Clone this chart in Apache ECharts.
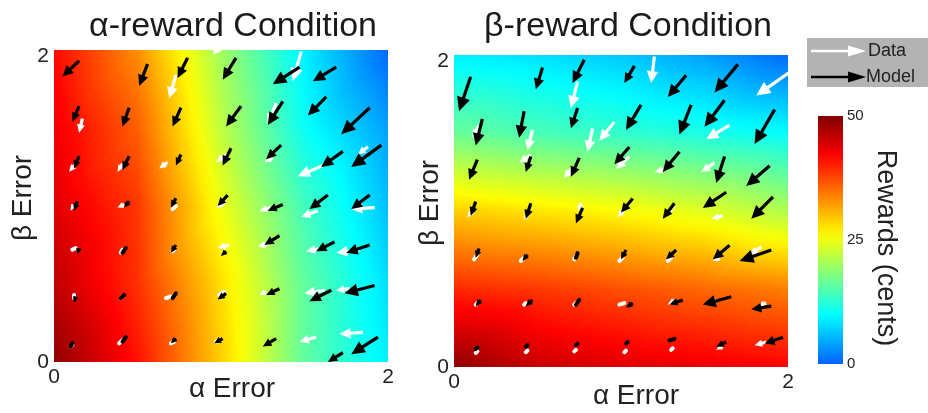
<!DOCTYPE html>
<html>
<head>
<meta charset="utf-8">
<script src="https://cdn.jsdelivr.net/npm/echarts@6.0.0/dist/echarts.min.js"></script>
<style>
  html, body { margin: 0; padding: 0; background: #fff; }
  #chart { width: 928px; height: 413px; }
</style>
</head>
<body>
<div id="chart"></div>
<script>
var chart = echarts.init(document.getElementById("chart"));
var FONT = "Liberation Sans, Arial, sans-serif";

// node positions of the reward surface (alpha error, beta error)
var nodeX = [0, 0.5, 1, 1.5, 2];
var nodeY = [0, 0.5, 1, 1.5, 2];

// rewards (cents) read at the nodes, one row per beta error value (bottom to top)
var alphaRewards = [
    [49, 41, 29, 16, 9],
    [46, 39, 28, 16, 8],
    [44, 38.5, 25, 14, 6],
    [43, 36, 22, 10.5, 4],
    [41.5, 33, 20, 9, 0.5]
];
var betaRewards = [
    [49, 45.5, 44, 43, 42],
    [39.5, 38.5, 37, 35.5, 34],
    [29, 27.5, 26, 24, 21],
    [16.5, 14.5, 13, 11.5, 10],
    [9, 8, 6.5, 4, 0.5]
];
var rewardRange = [0, 50];

// arrows: [tail alpha, tail beta, head alpha, head beta]
var alphaData = [
    [1.01, 2.04, 0.95, 1.97], [0.73, 1.84, 0.69, 1.69], [1.48, 1.99, 1.43, 1.80],
    [0.17, 1.56, 0.15, 1.47], [1.33, 1.66, 1.28, 1.52],
    [0.13, 1.27, 0.09, 1.22], [0.41, 1.27, 0.38, 1.22], [0.68, 1.28, 0.63, 1.24], [1.03, 1.33, 0.97, 1.28],
    [1.31, 1.31, 1.26, 1.28], [1.61, 1.26, 1.46, 1.19], [1.88, 1.38, 1.82, 1.33],
    [0.12, 1.01, 0.10, 0.97], [0.42, 1.01, 0.38, 0.99], [0.73, 1.00, 0.71, 0.98], [1.03, 1.03, 0.97, 0.99],
    [1.30, 0.99, 1.23, 0.97], [1.58, 0.97, 1.48, 0.93], [1.92, 0.99, 1.78, 0.98],
    [0.13, 0.73, 0.11, 0.72], [0.41, 0.72, 0.40, 0.70], [0.72, 0.72, 0.71, 0.71], [1.05, 0.75, 0.98, 0.73],
    [1.29, 0.76, 1.22, 0.74], [1.61, 0.73, 1.51, 0.71], [1.83, 0.72, 1.69, 0.70],
    [0.12, 0.43, 0.12, 0.41], [0.41, 0.42, 0.40, 0.41], [0.70, 0.42, 0.67, 0.41], [1.02, 0.45, 0.99, 0.43],
    [1.27, 0.45, 1.23, 0.43], [1.62, 0.46, 1.50, 0.44], [1.77, 0.47, 1.69, 0.46],
    [0.11, 0.11, 0.10, 0.10], [0.41, 0.14, 0.39, 0.12], [0.72, 0.13, 0.70, 0.12], [1.00, 0.14, 0.97, 0.13],
    [1.57, 0.16, 1.47, 0.13], [1.85, 0.19, 1.71, 0.18]
];
var alphaModel = [
    [0.15, 1.93, 0.05, 1.83], [0.56, 1.91, 0.51, 1.77], [0.80, 1.95, 0.74, 1.82], [1.09, 1.95, 1.01, 1.81],
    [1.47, 1.89, 1.31, 1.78], [1.69, 1.89, 1.55, 1.80],
    [0.15, 1.64, 0.11, 1.54], [0.45, 1.63, 0.41, 1.51], [0.76, 1.63, 0.71, 1.51], [1.12, 1.64, 1.03, 1.51],
    [1.37, 1.67, 1.28, 1.52], [1.63, 1.70, 1.52, 1.58], [1.89, 1.63, 1.72, 1.46],
    [0.15, 1.32, 0.12, 1.24], [0.45, 1.32, 0.41, 1.23], [0.76, 1.33, 0.73, 1.26], [1.06, 1.37, 1.01, 1.26],
    [1.36, 1.39, 1.27, 1.30], [1.73, 1.35, 1.60, 1.25], [1.96, 1.39, 1.78, 1.25],
    [0.14, 1.03, 0.12, 0.97], [0.45, 1.03, 0.42, 0.99], [0.73, 1.05, 0.70, 0.99], [1.04, 1.07, 0.98, 1.00],
    [1.37, 1.01, 1.28, 0.97], [1.64, 1.07, 1.53, 0.98], [1.89, 1.07, 1.78, 0.98],
    [0.15, 0.73, 0.14, 0.69], [0.43, 0.73, 0.41, 0.70], [0.73, 0.75, 0.70, 0.70], [1.03, 0.71, 1.00, 0.68],
    [1.35, 0.81, 1.26, 0.75], [1.68, 0.77, 1.57, 0.71], [1.89, 0.75, 1.75, 0.70],
    [0.13, 0.42, 0.12, 0.38], [0.42, 0.43, 0.40, 0.41], [0.73, 0.44, 0.71, 0.41], [1.03, 0.44, 0.98, 0.40],
    [1.35, 0.47, 1.27, 0.43], [1.66, 0.46, 1.53, 0.39], [1.92, 0.49, 1.74, 0.44],
    [0.11, 0.12, 0.10, 0.10], [0.43, 0.16, 0.41, 0.13], [0.73, 0.15, 0.70, 0.12], [1.01, 0.15, 0.96, 0.12],
    [1.33, 0.15, 1.25, 0.10], [1.73, 0.06, 1.64, 0.00], [1.94, 0.16, 1.78, 0.05]
];
var betaData = [
    [1.20, 1.99, 1.18, 1.82], [2.01, 1.89, 1.81, 1.74], [0.74, 1.83, 0.70, 1.66],
    [0.15, 1.55, 0.11, 1.47], [0.47, 1.52, 0.44, 1.39], [0.83, 1.53, 0.80, 1.38], [0.96, 1.57, 0.87, 1.45],
    [1.65, 1.55, 1.51, 1.46],
    [0.46, 1.36, 0.39, 1.31], [0.71, 1.28, 0.66, 1.21], [1.05, 1.35, 0.97, 1.27], [1.27, 1.27, 1.20, 1.25],
    [1.56, 1.31, 1.48, 1.25],
    [0.12, 1.01, 0.08, 0.96], [0.44, 0.98, 0.43, 0.96], [0.76, 1.04, 0.75, 1.02], [1.02, 1.01, 0.98, 0.96],
    [1.31, 1.03, 1.29, 1.00], [1.61, 0.97, 1.54, 0.95],
    [0.14, 0.72, 0.12, 0.69], [0.42, 0.70, 0.40, 0.68], [0.73, 0.71, 0.72, 0.69], [1.01, 0.70, 0.99, 0.68],
    [1.30, 0.70, 1.28, 0.68], [1.59, 0.70, 1.55, 0.68], [1.84, 0.77, 1.77, 0.72],
    [0.14, 0.41, 0.13, 0.40], [0.43, 0.41, 0.42, 0.40], [0.73, 0.41, 0.72, 0.40], [1.02, 0.41, 0.99, 0.40],
    [1.33, 0.43, 1.28, 0.40], [1.57, 0.43, 1.51, 0.40], [1.87, 0.41, 1.82, 0.39],
    [0.14, 0.10, 0.13, 0.09], [0.44, 0.105, 0.43, 0.095], [0.73, 0.11, 0.72, 0.10], [1.03, 0.105, 1.02, 0.095],
    [1.31, 0.12, 1.30, 0.11], [1.61, 0.135, 1.57, 0.11], [1.87, 0.16, 1.80, 0.14]
];
var betaModel = [
    [0.10, 1.86, 0.03, 1.64], [0.53, 1.92, 0.49, 1.78], [0.78, 1.97, 0.71, 1.82], [1.08, 1.93, 1.02, 1.82],
    [1.39, 1.87, 1.28, 1.73], [1.70, 1.94, 1.56, 1.76],
    [0.17, 1.59, 0.13, 1.42], [0.42, 1.64, 0.39, 1.47], [0.74, 1.66, 0.70, 1.53], [1.12, 1.68, 1.03, 1.52],
    [1.42, 1.68, 1.35, 1.49], [1.62, 1.71, 1.50, 1.54], [1.92, 1.65, 1.80, 1.43],
    [0.14, 1.33, 0.09, 1.20], [0.46, 1.35, 0.43, 1.25], [0.75, 1.34, 0.70, 1.22], [1.05, 1.41, 0.96, 1.30],
    [1.35, 1.38, 1.25, 1.25], [1.62, 1.35, 1.57, 1.18], [1.89, 1.29, 1.75, 1.16],
    [0.13, 1.06, 0.10, 0.97], [0.46, 1.05, 0.43, 0.95], [0.77, 1.02, 0.73, 0.92], [1.07, 1.08, 1.00, 0.99],
    [1.32, 1.05, 1.25, 0.95], [1.63, 1.12, 1.49, 1.02], [1.91, 1.09, 1.78, 0.95],
    [0.15, 0.76, 0.13, 0.70], [0.44, 0.72, 0.41, 0.68], [0.74, 0.73, 0.73, 0.70], [1.03, 0.75, 1.00, 0.69],
    [1.33, 0.75, 1.27, 0.69], [1.65, 0.78, 1.55, 0.69], [1.90, 0.75, 1.71, 0.68],
    [0.16, 0.43, 0.13, 0.39], [0.47, 0.43, 0.43, 0.39], [0.75, 0.43, 0.73, 0.40], [1.07, 0.41, 1.03, 0.38],
    [1.37, 0.43, 1.29, 0.40], [1.66, 0.45, 1.49, 0.40], [1.90, 0.39, 1.78, 0.37],
    [0.14, 0.125, 0.13, 0.115], [0.44, 0.14, 0.43, 0.13], [0.74, 0.15, 0.73, 0.14], [1.04, 0.16, 1.03, 0.15],
    [1.32, 0.18, 1.29, 0.17], [1.63, 0.16, 1.57, 0.13], [1.97, 0.19, 1.86, 0.15]
];

// jet colormap, cut so that 0 cents is a light blue and 50 cents dark red
function rewardColor(v) {
    var t = Math.max(0, Math.min(1, (v - rewardRange[0]) / (rewardRange[1] - rewardRange[0])));
    var f = 0.22 + 0.78 * t;
    function c(x) { return Math.round(255 * Math.max(0, Math.min(1, x))); }
    var r = c(Math.min(4 * f - 1.5, -4 * f + 4.5));
    var g = c(Math.min(4 * f - 0.5, -4 * f + 3.5));
    var b = c(Math.min(4 * f + 0.5, -4 * f + 2.5));
    return "rgb(" + r + "," + g + "," + b + ")";
}

function buildCells(grid) {
    var cells = [];
    for (var j = 0; j < nodeY.length - 1; j++) {
        for (var i = 0; i < nodeX.length - 1; i++) {
            cells.push([nodeX[i], nodeY[j], nodeX[i + 1], nodeY[j + 1],
                grid[j][i], grid[j][i + 1], grid[j + 1][i], grid[j + 1][i + 1]]);
        }
    }
    return cells;
}

// triangle whose colour varies linearly between its corner values
function shadedTriangle(p, v) {
    var dx2 = p[1][0] - p[0][0], dy2 = p[1][1] - p[0][1], dv2 = v[1] - v[0];
    var dx3 = p[2][0] - p[0][0], dy3 = p[2][1] - p[0][1], dv3 = v[2] - v[0];
    var det = dx2 * dy3 - dx3 * dy2;
    var gx = (dv2 * dy3 - dv3 * dy2) / det;
    var gy = (dx2 * dv3 - dx3 * dv2) / det;
    var g = Math.sqrt(gx * gx + gy * gy);
    var fill;
    if (g < 1e-9) {
        fill = rewardColor(v[0]);
    } else {
        var tmin = Infinity, tmax = -Infinity;
        p.forEach(function (q) {
            var t = gx * (q[0] - p[0][0]) + gy * (q[1] - p[0][1]);
            tmin = Math.min(tmin, t);
            tmax = Math.max(tmax, t);
        });
        var ux = gx / g, uy = gy / g;
        var stops = [];
        for (var k = 0; k <= 10; k++) {
            stops.push({ offset: k / 10, color: rewardColor(v[0] + tmin + (tmax - tmin) * k / 10) });
        }
        fill = new echarts.graphic.LinearGradient(
            p[0][0] + ux * tmin / g, p[0][1] + uy * tmin / g,
            p[0][0] + ux * tmax / g, p[0][1] + uy * tmax / g, stops, true);
    }
    return {
        type: "polygon",
        shape: { points: p },
        style: { fill: fill, stroke: fill, lineWidth: 1 }
    };
}

function renderCell(params, api) {
    var p00 = api.coord([api.value(0), api.value(1)]);
    var p10 = api.coord([api.value(2), api.value(1)]);
    var p01 = api.coord([api.value(0), api.value(3)]);
    var p11 = api.coord([api.value(2), api.value(3)]);
    var v00 = api.value(4), v10 = api.value(5), v01 = api.value(6), v11 = api.value(7);
    return {
        type: "group",
        children: [
            shadedTriangle([p00, p10, p11], [v00, v10, v11]),
            shadedTriangle([p00, p11, p01], [v00, v11, v01])
        ]
    };
}

function arrowRenderer(color) {
    return function (params, api) {
        var p0 = api.coord([api.value(0), api.value(1)]);
        var p1 = api.coord([api.value(2), api.value(3)]);
        var dx = p1[0] - p0[0], dy = p1[1] - p0[1];
        var len = Math.sqrt(dx * dx + dy * dy);
        if (len < 6) {
            return {
                type: "line",
                shape: { x1: p0[0], y1: p0[1], x2: p1[0], y2: p1[1] },
                style: { stroke: color, lineWidth: 4, lineCap: "round" }
            };
        }
        var ux = dx / len, uy = dy / len;
        var hl = Math.min(14, 4 + 0.3 * len);
        var hw = hl * 0.48;
        var bx = p1[0] - ux * hl, by = p1[1] - uy * hl;
        return {
            type: "group",
            children: [{
                type: "line",
                shape: { x1: p0[0], y1: p0[1], x2: bx + ux, y2: by + uy },
                style: { stroke: color, lineWidth: 3.2 }
            }, {
                type: "polygon",
                shape: { points: [[p1[0], p1[1]], [bx - uy * hw, by + ux * hw], [bx + uy * hw, by - ux * hw]] },
                style: { fill: color }
            }]
        };
    };
}

function renderColorbar(params, api) {
    var a = api.coord([0, api.value(0)]);
    var b = api.coord([1, api.value(1)]);
    var stops = [];
    for (var k = 0; k <= 20; k++) {
        stops.push({ offset: k / 20, color: rewardColor(api.value(1) - (api.value(1) - api.value(0)) * k / 20) });
    }
    return {
        type: "rect",
        shape: { x: a[0], y: b[1], width: b[0] - a[0], height: a[1] - b[1] },
        style: { fill: new echarts.graphic.LinearGradient(0, 0, 0, 1, stops) }
    };
}

var tickStyle = {
    fontFamily: FONT, fontSize: 21, color: "#222"
};

function valueXAxis(idx, nameShift, gap) {
    return {
        type: "value", gridIndex: idx, min: 0, max: 2, interval: 2,
        axisLine: { show: false }, axisTick: { show: false }, splitLine: { show: false },
        axisLabel: Object.assign({ margin: 5 }, tickStyle),
        name: "α Error", nameLocation: "middle", nameGap: gap, nameMoveOverlap: false,
        nameTextStyle: { fontFamily: FONT, fontSize: 28, color: "#222", padding: [0, 0, 0, nameShift] }
    };
}
function valueYAxis(idx, gap) {
    return {
        type: "value", gridIndex: idx, min: 0, max: 2, interval: 2,
        axisLine: { show: false }, axisTick: { show: false }, splitLine: { show: false },
        axisLabel: {
            margin: 5,
            formatter: function (v) { return v === 2 ? "{top|2}" : "{n|" + v + "}"; },
            rich: {
                top: Object.assign({ padding: [12, 0, 0, 0] }, tickStyle),
                n: Object.assign({}, tickStyle)
            }
        },
        name: "β Error", nameLocation: "middle", nameRotate: 90, nameGap: gap, nameMoveOverlap: false,
        nameTextStyle: { fontFamily: FONT, fontSize: 28, color: "#222", padding: [0, 0, 0, 16] }
    };
}

var option = {
    backgroundColor: "#fff",
    animation: false,
    title: [{
        text: "α-reward Condition", left: 228, top: 5, textAlign: "center",
        textStyle: { fontFamily: FONT, fontSize: 34, fontWeight: "normal", color: "#1a1a1a" }
    }, {
        text: "β-reward Condition", left: 623, top: 5, textAlign: "center",
        textStyle: { fontFamily: FONT, fontSize: 34, fontWeight: "normal", color: "#1a1a1a" }
    }],
    grid: [
        { left: 54, top: 50, width: 334, height: 312, outerBoundsMode: "none" },
        { left: 454, top: 55, width: 334, height: 312, outerBoundsMode: "none" },
        { left: 818, top: 116, width: 25, height: 248, outerBoundsMode: "none" }
    ],
    xAxis: [
        valueXAxis(0, 22, 13),
        valueXAxis(1, 30, 15),
        { type: "value", gridIndex: 2, min: 0, max: 1, show: false }
    ],
    yAxis: [
        valueYAxis(0, 17),
        valueYAxis(1, 10),
        {
            type: "value", gridIndex: 2, min: rewardRange[0], max: rewardRange[1], interval: 25,
            position: "right",
            axisLine: { show: false }, axisTick: { show: false }, splitLine: { show: false },
            axisLabel: { margin: 4, fontFamily: FONT, fontSize: 15, color: "#222" },
            name: "Rewards (cents)", nameLocation: "middle", nameRotate: -90, nameGap: 29, nameMoveOverlap: false,
            nameTextStyle: { fontFamily: FONT, fontSize: 27, color: "#222", padding: [0, 0, 0, 16] }
        }
    ],
    series: [
        { type: "custom", name: "alpha surface", xAxisIndex: 0, yAxisIndex: 0, silent: true, z: 1, clip: true,
          renderItem: renderCell, data: buildCells(alphaRewards) },
        { type: "custom", name: "beta surface", xAxisIndex: 1, yAxisIndex: 1, silent: true, z: 1, clip: true,
          renderItem: renderCell, data: buildCells(betaRewards) },
        { type: "custom", name: "Data", xAxisIndex: 0, yAxisIndex: 0, clip: true, z: 3,
          renderItem: arrowRenderer("#ffffff"), data: alphaData },
        { type: "custom", name: "Model", xAxisIndex: 0, yAxisIndex: 0, clip: true, z: 4,
          renderItem: arrowRenderer("#000000"), data: alphaModel },
        { type: "custom", name: "Data", xAxisIndex: 1, yAxisIndex: 1, clip: true, z: 3,
          renderItem: arrowRenderer("#ffffff"), data: betaData },
        { type: "custom", name: "Model", xAxisIndex: 1, yAxisIndex: 1, clip: true, z: 4,
          renderItem: arrowRenderer("#000000"), data: betaModel },
        { type: "custom", name: "colorbar", xAxisIndex: 2, yAxisIndex: 2, silent: true,
          renderItem: renderColorbar, data: [rewardRange] }
    ],
    graphic: [{
        type: "group", left: 807, top: 38,
        children: [
            { type: "rect", shape: { x: 0, y: 0, width: 125, height: 49 }, style: { fill: "#b3b3b3" } },
            { type: "line", shape: { x1: 4, y1: 13, x2: 44, y2: 13 }, style: { stroke: "#fff", lineWidth: 2.5 } },
            { type: "polygon", shape: { points: [[41, 7.5], [59, 13], [41, 18.5]] }, style: { fill: "#fff" } },
            { type: "text", x: 61, y: 13, style: { text: "Data", font: "18px " + FONT, fill: "#222", verticalAlign: "middle" } },
            { type: "line", shape: { x1: 4, y1: 39, x2: 44, y2: 39 }, style: { stroke: "#000", lineWidth: 2.5 } },
            { type: "polygon", shape: { points: [[41, 33.5], [59, 39], [41, 44.5]] }, style: { fill: "#000" } },
            { type: "text", x: 59, y: 39, style: { text: "Model", font: "18px " + FONT, fill: "#222", verticalAlign: "middle" } }
        ]
    }]
};

chart.setOption(option);
</script>
</body>
</html>
